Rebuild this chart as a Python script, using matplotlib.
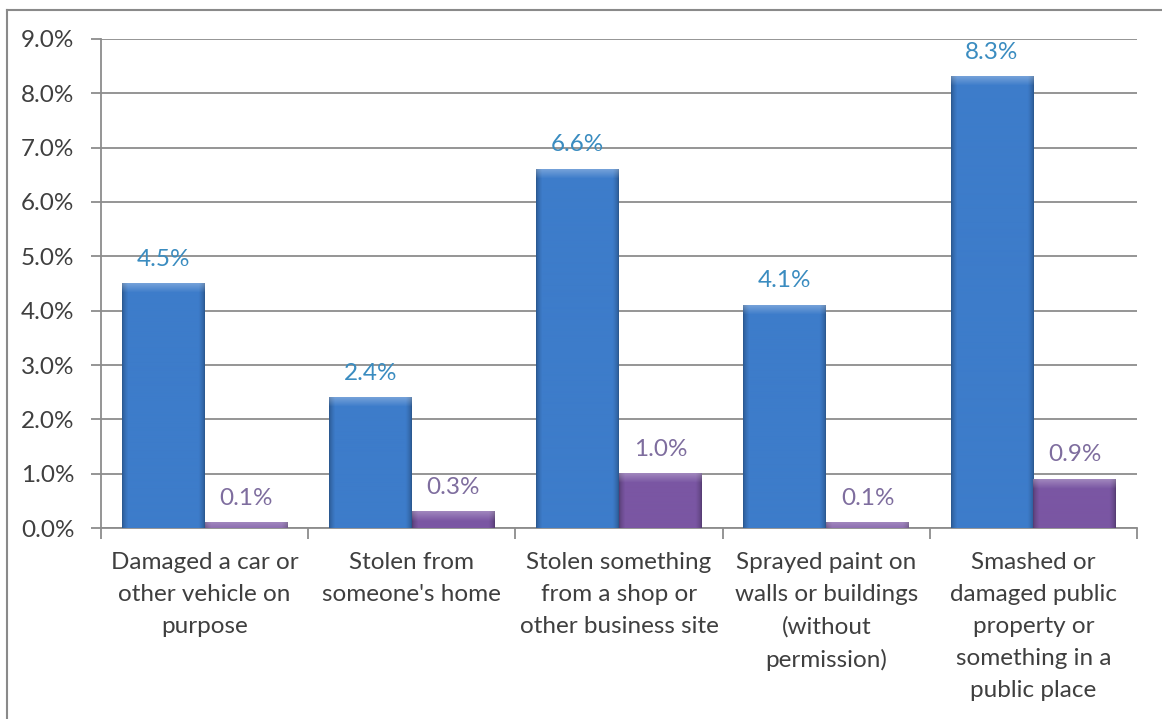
import numpy as np
import matplotlib.pyplot as plt
from matplotlib.lines import Line2D
from matplotlib.colors import to_rgb

# data
categories = [
    "Damaged a car or\nother vehicle on\npurpose",
    "Stolen from\nsomeone's home",
    "Stolen something\nfrom a shop or\nother business site",
    "Sprayed paint on\nwalls or buildings\n(without\npermission)",
    "Smashed or\ndamaged public\nproperty or\nsomething in a\npublic place",
]
series_a = [4.5, 2.4, 6.6, 4.1, 8.3]
series_b = [0.1, 0.3, 1.0, 0.1, 0.9]
y_ticks = [0, 1, 2, 3, 4, 5, 6, 7, 8, 9]

plt.rcParams['font.family'] = ['Lato', 'DejaVu Sans']

blue = '#3D7CCA'
purple = '#7A56A3'
blue_lbl = '#3A8CC0'
purple_lbl = '#7E6D9E'
grid_c = '#8C8C8C'
text_c = '#3F3F3F'
fs = 17.5

fig = plt.figure(figsize=(11.62, 7.19), dpi=100)
ax = fig.add_axes([0.0869, 0.2656, 0.8916, 0.6802])

x = np.arange(len(categories))
w = 0.4
bars_a = ax.bar(x - w / 2, series_a, w, color=blue, zorder=2)
bars_b = ax.bar(x + w / 2, series_b, w, color=purple, zorder=2)

ax.set_xlim(-0.5, len(categories) - 0.5)
ax.set_ylim(0, 9)


def shade(bars, base):
    # darker sides and a soft lighter bevel on top, clipped to each bar
    c = np.array(to_rgb(base))
    px_per_unit = ax.bbox.height / 9.0
    for b in bars:
        x0, y0 = b.get_x(), b.get_y()
        bw, bh = b.get_width(), b.get_height()
        hpx = max(int(bh * px_per_unit), 2)
        u = np.linspace(0, 1, 83)
        edge = np.clip(np.minimum(u, 1 - u) / 0.07, 0, 1)
        f = 0.72 + 0.28 * edge ** 0.7
        img = np.ones((hpx, 83, 3)) * c * f[None, :, None]
        bev = min(9, hpx)
        for r in range(bev):
            t = 1 - r / 9.0
            img[r] = img[r] + (1 - img[r]) * 0.28 * t
        img = np.clip(img, 0, 1)
        ax.imshow(img, extent=[x0, x0 + bw, y0, y0 + bh], aspect='auto',
                  origin='upper', zorder=3, clip_path=b, interpolation='bilinear')


shade(bars_a, blue)
shade(bars_b, purple)
ax.set_xlim(-0.5, len(categories) - 0.5)
ax.set_ylim(0, 9)

for b, v in zip(bars_a, series_a):
    ax.annotate(f"{v:.1f}%", (b.get_x() + b.get_width() / 2, v), xytext=(0, 10),
                textcoords='offset points', ha='center', va='bottom',
                fontsize=fs, color=blue_lbl)
for b, v in zip(bars_b, series_b):
    ax.annotate(f"{v:.1f}%", (b.get_x() + b.get_width() / 2, v), xytext=(0, 10),
                textcoords='offset points', ha='center', va='bottom',
                fontsize=fs, color=purple_lbl)

ax.set_yticks(y_ticks)
ax.set_yticklabels([f"{t:.1f}%" for t in y_ticks])
ax.yaxis.grid(True, color=grid_c, linewidth=1.3, zorder=0)
ax.set_axisbelow(True)

ax.set_xticks(x)
ax.set_xticklabels(categories)
ax.set_xticks(np.arange(len(categories) + 1) - 0.5, minor=True)
ax.tick_params(axis='x', which='major', length=0, pad=17, labelsize=fs, labelcolor=text_c)
ax.tick_params(axis='x', which='minor', length=8, width=1.3, color=grid_c, direction='out')
ax.tick_params(axis='y', length=7, width=1.3, color=grid_c, pad=12, labelsize=fs, labelcolor=text_c)
for lbl in ax.get_xticklabels():
    lbl.set_linespacing(1.65)

for s in ['top', 'right']:
    ax.spines[s].set_visible(False)
for s in ['left', 'bottom']:
    ax.spines[s].set_color(grid_c)
    ax.spines[s].set_linewidth(1.3)

# outer chart frame (runs off the right and bottom edges)
fig.add_artist(Line2D([7 / 1162, 7 / 1162], [0, 1 - 10 / 719], color='#8A8A8A', lw=1.5))
fig.add_artist(Line2D([7 / 1162, 1], [1 - 10 / 719, 1 - 10 / 719], color='#8A8A8A', lw=1.5))

fig.savefig('out.png', dpi=100)
